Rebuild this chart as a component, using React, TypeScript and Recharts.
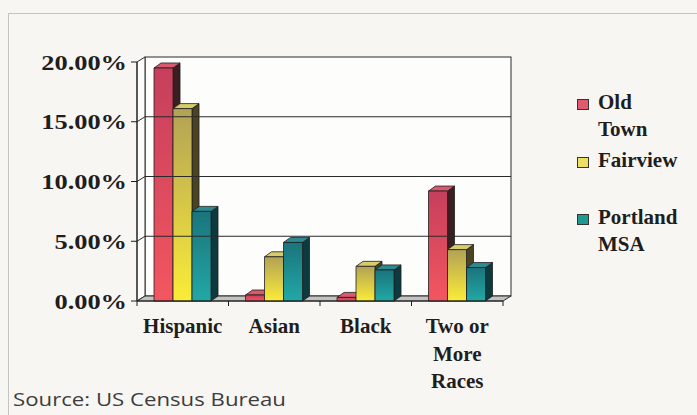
import React from "react";
import { BarChart, Bar, XAxis, YAxis, Legend, ReferenceArea, ReferenceLine } from "recharts";

// Share of population by group
const categories = ["Hispanic", "Asian", "Black", "Two or\nMore\nRaces"];
const oldTown = [19.5, 0.5, 0.3, 9.2];
const fairview = [16.1, 3.7, 2.9, 4.3];
const portlandMsa = [7.5, 4.9, 2.6, 2.8];
const seriesNames = ["Old Town", "Fairview", "Portland MSA"];
const yTicks = [0, 5, 10, 15, 20];
const gridTicks = [5, 10, 15];
const sourceNote = "Source: US Census Bureau";

const data = categories.map((category, i) => ({
  category,
  oldTown: oldTown[i],
  fairview: fairview[i],
  portlandMsa: portlandMsa[i],
}));

const SERIF = "'Liberation Serif', 'Times New Roman', serif";
const INK = "#1e1e1e";
const WALL_DX = 8;
const WALL_DY = 5;
const BAR_DX = 7;
const BAR_DY = 5;

const seriesStyles = [
  { key: "oldTown", grad: "gOld", stops: ["#c63f5c", "#f35660"], side: "#3a1e22", top: "#d85a6c", swatch: "#e05a70" },
  { key: "fairview", grad: "gFair", stops: ["#b2a256", "#fbec38"], side: "#4a4424", top: "#d8cc66", swatch: "#ece064" },
  { key: "portlandMsa", grad: "gPort", stops: ["#1a747c", "#22a8a6"], side: "#0c3a3e", top: "#2a8c92", swatch: "#1f9890" },
];

// A bar with its top and right-hand side drawn in oblique projection
function Box3D(props: any) {
  const { x, y, width, height, grad, side, top } = props;
  if (x == null || y == null || !width || height == null) return null;
  const x2 = x + width;
  const y2 = y + height;
  return (
    <g stroke={INK} strokeWidth={0.8} strokeLinejoin="round">
      <polygon points={`${x2},${y} ${x2 + BAR_DX},${y - BAR_DY} ${x2 + BAR_DX},${y2 - BAR_DY} ${x2},${y2}`} fill={side} />
      <polygon points={`${x},${y} ${x + BAR_DX},${y - BAR_DY} ${x2 + BAR_DX},${y - BAR_DY} ${x2},${y}`} fill={top} />
      <rect x={x} y={y} width={width} height={height} fill={`url(#${grad})`} />
    </g>
  );
}

// Back wall, left wall and floor of the plot box
function Walls(props: any) {
  const { x, y, width, height } = props;
  if (x == null || y == null) return null;
  const bottom = y + height;
  const right = x + width;
  return (
    <g stroke="#2a2a2a" strokeWidth={1}>
      <rect x={x + WALL_DX} y={y - WALL_DY} width={width} height={height} fill="#fdfdfc" />
      <polygon points={`${x},${y} ${x + WALL_DX},${y - WALL_DY} ${x + WALL_DX},${bottom - WALL_DY} ${x},${bottom}`} fill="#fbfbfa" />
      <polygon points={`${x},${bottom} ${x + WALL_DX},${bottom - WALL_DY} ${right + WALL_DX},${bottom - WALL_DY} ${right},${bottom}`} fill="#c2c2c2" />
    </g>
  );
}

// Gridline running across the left wall and then along the back wall
function WallGridLine(p: any) {
  const { x1, x2, y1 } = p;
  if (x1 == null || y1 == null) return null;
  const left = Math.min(x1, x2);
  const right = Math.max(x1, x2);
  return (
    <polyline
      points={`${left},${y1} ${left + WALL_DX},${y1 - WALL_DY} ${right + WALL_DX},${y1 - WALL_DY}`}
      fill="none"
      stroke="#2a2a2a"
      strokeWidth={1}
    />
  );
}

function YTick(props: any) {
  const { x, y, payload } = props;
  return (
    <text
      transform={`translate(${x},${y + 7.5}) scale(1.2,1)`}
      textAnchor="end"
      fontFamily={SERIF}
      fontWeight="bold"
      fontSize={22}
      fill={INK}
    >
      {`${Number(payload.value).toFixed(2)}%`}
    </text>
  );
}

function XTick(props: any) {
  const { x, y, payload, index, visibleTicksCount, width } = props;
  const half = payload.offset ? payload.offset : width / visibleTicksCount / 2;
  const lines = String(payload.value).split("\n");
  return (
    <g>
      <line x1={x - half} x2={x - half} y1={y} y2={y + 5} stroke={INK} strokeWidth={1} />
      {index === visibleTicksCount - 1 && (
        <line x1={x + half} x2={x + half} y1={y} y2={y + 5} stroke={INK} strokeWidth={1} />
      )}
      {lines.map((ln, i) => (
        <text
          key={i}
          x={x}
          y={y + 32 + i * 27.5}
          textAnchor="middle"
          fontFamily={SERIF}
          fontWeight="bold"
          fontSize={21}
          fill={INK}
        >
          {ln}
        </text>
      ))}
    </g>
  );
}

function LegendBlock(props: any) {
  const payload = [...(props.payload || [])].sort(
    (a: any, b: any) =>
      seriesStyles.findIndex((s) => s.key === a.dataKey) - seriesStyles.findIndex((s) => s.key === b.dataKey)
  );
  return (
    <div style={{ fontFamily: SERIF, fontWeight: "bold", fontSize: 21, lineHeight: "27px", color: INK }}>
      {payload.map((entry: any, i: number) => {
        const st = seriesStyles.find((s) => s.key === entry.dataKey) || seriesStyles[i];
        return (
          <div key={i} style={{ position: "relative", height: 57.5, paddingLeft: 22 }}>
            <span
              style={{
                position: "absolute",
                left: 1,
                top: 10,
                width: 10,
                height: 9,
                background: st.swatch,
                border: "1px solid #333",
              }}
            />
            <div style={{ width: 84 }}>{entry.value}</div>
          </div>
        );
      })}
    </div>
  );
}

export default function App() {
  return (
    <div style={{ position: "absolute", left: 0, top: 0, width: 697, height: 415, background: "#f8f6f3", overflow: "hidden" }}>
      <div
        style={{
          position: "absolute",
          left: 8,
          top: 13,
          width: 700,
          height: 420,
          borderLeft: "1px solid #c6c4c2",
          borderTop: "1px solid #c6c4c2",
        }}
      />
      <div style={{ position: "absolute", left: 0, top: 0 }}>
        <BarChart
          width={697}
          height={415}
          data={data}
          margin={{ top: 62, right: 194, bottom: 24, left: 37 }}
          barCategoryGap="18.6%"
          barGap={0}
        >
          <defs>
            {seriesStyles.map((s) => (
              <linearGradient key={s.grad} id={s.grad} x1="0" y1="0" x2="0" y2="1">
                <stop offset="0%" stopColor={s.stops[0]} />
                <stop offset="100%" stopColor={s.stops[1]} />
              </linearGradient>
            ))}
          </defs>
          <ReferenceArea y1={0} y2={20} shape={<Walls />} ifOverflow="visible" />
          {gridTicks.map((v) => (
            <ReferenceLine key={v} y={v} shape={(p: any) => <WallGridLine {...p} />} ifOverflow="visible" />
          ))}
          <XAxis
            dataKey="category"
            interval={0}
            tickLine={false}
            tickSize={0}
            tickMargin={0}
            height={90}
            axisLine={{ stroke: INK, strokeWidth: 1 }}
            tick={<XTick />}
          />
          <YAxis
            type="number"
            domain={[0, 20]}
            ticks={yTicks}
            interval={0}
            width={100}
            tickSize={6}
            tickMargin={4}
            axisLine={{ stroke: INK, strokeWidth: 1 }}
            tickLine={{ stroke: INK, strokeWidth: 1 }}
            tick={<YTick />}
          />
          <Legend
            layout="vertical"
            align="center"
            verticalAlign="middle"
            wrapperStyle={{ left: 576, top: 89, width: 120 }}
            content={<LegendBlock />}
          />
          {seriesStyles.map((s, i) => (
            <Bar
              key={s.key}
              dataKey={s.key}
              name={seriesNames[i]}
              fill={s.swatch}
              isAnimationActive={false}
              shape={(p: any) => <Box3D {...p} grad={s.grad} side={s.side} top={s.top} />}
            />
          ))}
        </BarChart>
      </div>
      <svg width={697} height={415} style={{ position: "absolute", left: 0, top: 0, pointerEvents: "none" }}>
        <text x={13} y={406} fontFamily="'Open Sans', sans-serif" fontSize={18} fill="#3c3c3c" textLength={273} lengthAdjust="spacingAndGlyphs">
          {sourceNote}
        </text>
      </svg>
    </div>
  );
}
